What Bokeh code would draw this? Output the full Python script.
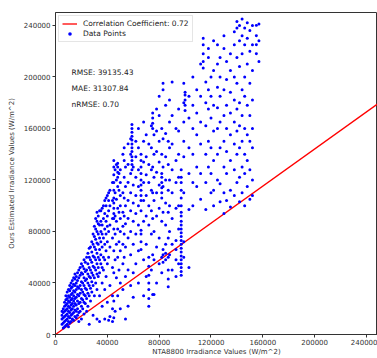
from bokeh.plotting import figure
from bokeh.models import Label, FixedTicker, Legend, LegendItem, Range1d, NumeralTickFormatter
from bokeh.embed import file_html
from bokeh.resources import INLINE

# NTA8800 irradiance column values (thousands W/m^2) and the estimated values per column (thousands)
col_x = [5, 6, 7, 8, 9, 10, 11, 12, 13, 14, 15, 16, 17, 18, 19, 20, 21, 22, 23, 24, 25, 26, 27, 28, 29,
         30, 31, 32, 33, 34, 35, 36, 37, 38, 39, 40, 41, 42, 44, 45, 46, 47, 48, 49, 50, 52, 53, 54, 56,
         58, 59, 60, 62, 64, 66, 68, 70, 72, 74, 75, 76, 78, 80, 82, 83, 85, 87, 88, 90, 93, 95, 97, 99,
         100, 103, 106, 109, 112, 114, 116, 118, 120, 122, 125, 127, 130, 132, 135, 138, 140, 142, 144,
         146, 148, 150, 152, 155, 157]
col_y = [
    [8, 12, 15, 18], [5, 9, 13, 17, 20], [6, 10, 14, 18, 22, 25], [7, 11, 15, 19, 23, 27, 30],
    [8, 12, 16, 20, 24, 28, 33], [6, 10, 14, 18, 22, 26, 30, 35], [9, 13, 17, 21, 25, 29, 34, 38],
    [10, 15, 19, 23, 27, 31, 36, 40], [12, 16, 20, 24, 28, 32, 37, 42], [11, 17, 22, 26, 30, 34, 39, 44],
    [14, 19, 24, 28, 33, 38, 43, 47], [13, 18, 23, 29, 35, 40, 45], [15, 20, 26, 31, 37, 42, 48],
    [10, 17, 24, 30, 36, 44, 50], [18, 25, 32, 38, 46, 52], [12, 22, 28, 35, 41, 48, 55],
    [20, 27, 33, 40, 47, 53], [16, 25, 31, 38, 44, 51, 58], [24, 30, 36, 42, 49, 56],
    [18, 28, 35, 43, 50, 60], [22, 32, 40, 47, 55, 63], [8, 30, 38, 45, 52, 60, 67],
    [26, 36, 44, 50, 58, 68], [33, 41, 48, 56, 64, 72], [15, 38, 46, 53, 61, 70, 78],
    [30, 44, 52, 60, 68, 76, 84], [40, 50, 58, 66, 74, 82, 90], [12, 35, 47, 55, 63, 71, 80, 88, 95],
    [45, 52, 60, 70, 78, 86, 92], [10, 30, 48, 58, 66, 75, 85, 96], [55, 62, 72, 80, 88, 96],
    [22, 40, 52, 68, 78, 85, 98], [50, 60, 75, 90, 100], [12, 35, 58, 70, 82, 94, 104],
    [45, 65, 78, 88, 100, 106], [25, 55, 72, 84, 92, 108], [11, 60, 80, 96, 104, 110],
    [14, 38, 68, 85, 100, 112], [10, 20, 30, 52, 75, 90, 104, 118],
    [13, 26, 48, 65, 82, 90, 94, 98, 102, 106, 112, 118, 124, 130, 135],
    [18, 58, 78, 92, 110, 128], [44, 70, 88, 105, 120, 132], [30, 60, 82, 98, 115, 122, 126, 130, 133],
    [50, 72, 95, 112, 125], [20, 40, 65, 80, 90, 100, 108, 118, 128], [35, 55, 70, 84, 95, 110, 140],
    [60, 78, 92, 106, 122, 135, 145], [12, 45, 68, 86, 100, 115, 130], [22, 50, 75, 90, 104, 118, 132, 148],
    [38, 62, 80, 96, 110, 125, 140, 152], [128, 132, 135, 138, 142, 145, 148, 151, 154, 157, 160, 163],
    [29, 48, 70, 88, 102, 116, 130], [55, 78, 94, 108, 122, 138, 150], [40, 65, 85, 100, 115, 128, 145, 160],
    [66, 72, 78, 81, 96, 104, 108, 112, 116, 120, 125, 130, 135, 140], [30, 58, 88, 104, 118, 134, 150, 165],
    [45, 70, 92, 108, 124, 138, 155],
    [22, 28, 35, 40, 46, 53, 60, 85, 100, 118, 132, 148], [50, 78, 96, 112, 128, 145, 162],
    [31, 62, 90, 110, 130, 160, 164, 168, 172], [31, 58, 80, 104, 122, 140, 155],
    [40, 68, 92, 110, 126, 142, 158, 175], [55, 75, 98, 116, 134, 150, 170, 185],
    [48, 60, 88, 106, 110, 114, 118, 122, 125, 140, 160], [56, 62, 66, 95, 115, 130, 152, 190, 195],
    [58, 63, 70, 85, 102, 120, 138, 156, 178], [37, 43, 50, 60, 75, 95, 112, 132, 150],
    [62, 80, 100, 120, 145, 165, 182], [50, 70, 90, 110, 128, 148, 170, 196],
    [45, 58, 66, 73, 98, 118, 135, 160], [55, 82, 100, 122, 140, 158, 175],
    [46, 49, 52, 55, 58, 61, 64, 67, 70, 73, 76, 79, 82, 85, 88, 92, 95, 100, 106, 112, 118, 122, 128],
    [60, 72, 110, 138, 150, 165, 180, 195],
    [174, 178, 182, 186, 188], [52, 97, 125, 145, 168, 185], [100, 118, 140, 160, 178, 200],
    [115, 130, 155, 172, 190], [105, 125, 148, 165, 185, 210], [207, 212, 218, 225, 230],
    [97, 118, 140, 162, 180, 196], [130, 150, 175, 190, 215, 222], [110, 125, 145, 168, 185, 200],
    [100, 112, 135, 158, 178, 205, 228], [120, 140, 160, 176, 192, 210, 225],
    [103, 117, 145, 165, 185, 200, 215], [94, 110, 130, 150, 170, 190, 222, 232],
    [104, 125, 142, 160, 178, 198, 212], [99, 112, 135, 155, 172, 188, 205, 218],
    [108, 128, 148, 165, 182, 200, 225, 235], [118, 140, 158, 175, 195, 215, 238, 243],
    [103, 122, 145, 162, 180, 208, 228, 240], [110, 130, 150, 170, 190, 218, 232, 245],
    [100, 125, 140, 160, 185, 200, 225, 238], [115, 135, 155, 178, 210, 230, 242],
    [105, 128, 150, 170, 195, 220, 236], [108, 120, 145, 160, 182, 205, 225, 240],
    [218, 225, 232, 240], [212, 228, 241],
]
# correlation line end points (W/m^2)
line_x = [0, 250000]
line_y = [0, 180000]
stats_text = ["RMSE: 39135.43", "MAE: 31307.84", "nRMSE: 0.70"]
stats_y = [200000, 187500, 175000]
x_ticks = [0, 40000, 80000, 120000, 160000, 200000, 240000]
y_ticks = [0, 40000, 80000, 120000, 160000, 200000, 240000]

xs, ys = [], []
for cx, cys in zip(col_x, col_y):
    for cy in cys:
        xs.append(cx * 1000)
        ys.append(cy * 1000)

FONT = "DejaVu Sans"
p = figure(width=377, height=358, output_backend="svg", toolbar_location=None,
           x_range=Range1d(0, 248500), y_range=Range1d(0, 250000),
           min_border_left=55, min_border_top=12, min_border_bottom=23, min_border_right=0)
p.xgrid.visible = False
p.ygrid.visible = False
p.outline_line_color = "#333333"
p.outline_line_width = 1

r_line = p.line(line_x, line_y, line_color="red", line_width=1.3)
r_pts = p.scatter(xs, ys, size=3.0, fill_color="blue", line_color=None)

for ax in (p.xaxis[0], p.yaxis[0]):
    ax.axis_line_color = "#333333"
    ax.major_tick_line_color = "#333333"
    ax.major_tick_out = 3
    ax.major_tick_in = 0
    ax.minor_tick_line_color = None
    ax.major_label_text_font = FONT
    ax.major_label_text_font_size = "7px"
    ax.major_label_text_color = "#333333"
    ax.major_label_standoff = 2
    ax.axis_label_text_font = FONT
    ax.axis_label_text_font_size = "7px"
    ax.axis_label_text_font_style = "normal"
    ax.axis_label_text_color = "#333333"
    ax.formatter = NumeralTickFormatter(format="0")
p.xaxis[0].axis_label_standoff = 0
p.xaxis[0].major_label_standoff = 1
p.yaxis[0].axis_label_standoff = 5
p.xaxis[0].ticker = FixedTicker(ticks=x_ticks)
p.yaxis[0].ticker = FixedTicker(ticks=y_ticks)
p.xaxis[0].axis_label = "NTA8800 Irradiance Values (W/m^2)"
p.yaxis[0].axis_label = "Ours Estimated Irradiance Values (W/m^2)"

for t, yy in zip(stats_text, stats_y):
    p.add_layout(Label(x=12400, y=yy, text=t, text_font=FONT, text_font_size="7.5px",
                       text_color="#222222", text_baseline="bottom"))

legend = Legend(items=[LegendItem(label="Correlation Coefficient: 0.72", renderers=[r_line]),
                       LegendItem(label="Data Points", renderers=[r_pts])],
                location="top_left", margin=3, padding=3, spacing=1,
                label_text_font=FONT, label_text_font_size="7.5px", label_text_color="#222222",
                label_height=9, glyph_height=9, glyph_width=15, label_standoff=6,
                border_line_color="#cccccc", border_line_width=1,
                background_fill_alpha=0.9)
p.add_layout(legend)

open("out.html", "w").write(file_html(p, INLINE))
